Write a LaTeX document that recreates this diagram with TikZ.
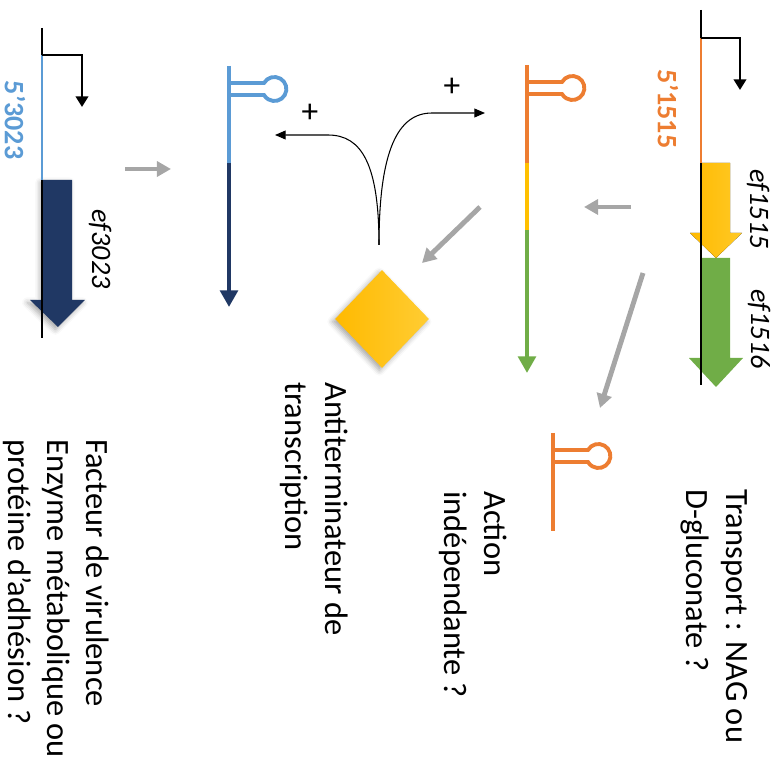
\documentclass[tikz,border=0pt]{standalone}
\usepackage{fontspec}
\setmainfont{Carlito}
\usepackage{xcolor}
\usepackage{tikz}
\usetikzlibrary{arrows.meta, shapes.geometric, shadows.blur}
\definecolor{ink}{RGB}{0,0,0}
\definecolor{orangec}{RGB}{237,125,49}
\definecolor{bluel}{RGB}{91,155,213}
\definecolor{blued}{RGB}{32,56,100}
\definecolor{yellowc}{RGB}{255,192,0}
\definecolor{greenc}{RGB}{112,173,71}
\definecolor{greyc}{RGB}{166,166,166}

\begin{document}
\begin{tikzpicture}[x=0.02cm, y=-0.02cm,
                    lab/.style={rotate=-90, anchor=north west, align=left, inner sep=0pt, font=\fontsize{18.5}{22.8}\selectfont},
                    gname/.style={rotate=-90, inner sep=0pt, font=\fontsize{16}{19}\selectfont\itshape},
                    utr/.style={rotate=-90, inner sep=0pt, font=\fontsize{16}{19}\selectfont\bfseries},
                    dna/.style={ink, line width=1.7pt},
                    prom/.style={ink, line width=1.4pt, -{Triangle[width=7pt,length=6pt]}},
                    rna/.style={line width=2.8pt},
                    rnatip/.style={-{Triangle[width=10pt,length=9.5pt]}},
                    move/.style={greyc, line width=2.8pt, -{Triangle[width=8.5pt,length=8pt]}},
                    act/.style={ink, line width=0.6pt, -{Triangle[width=5pt,length=6pt]}},
                    halo/.style={blur shadow={shadow xshift=-1.5pt, shadow yshift=-1.5pt, shadow opacity=35, shadow blur radius=3pt}},
                    hairpin/.pic={\draw[pic actions, line width=2.2pt] (0,-6) -- (35,-6) arc[start angle=-150, end angle=150, radius=12] -- (0,6);}]
  \useasboundingbox (0,0) rectangle (782,763);
  % operon ef1515-ef1516
  \fill[left color=yellowc!90!orange, right color=yellowc!85!white] (701,163) -- (730,163) -- (730,233) -- (742,233) -- (716,258) -- (690,233) -- (701,233) -- cycle;
  \fill[greenc] (701,258) -- (730,258) -- (730,358) -- (743,358) -- (716,387) -- (689,358) -- (701,358) -- cycle;
  \draw[dna] (701,10) -- (701,385);
  \draw[dna, orangec] (701,38) -- (701,163);
  \draw[prom] (701,38) -- (740,38) -- (740,90);
  \node[utr, text=orangec] (u1515) at (668,109) {5’1515};
  \node[gname] (g1515) at (758,209) {ef1515};
  \node[gname] (g1516) at (759,329) {ef1516};
  % gene ef3023
  \fill[blued, halo] (43,180) -- (72,180) -- (72,300) -- (85,300) -- (58,327) -- (30,300) -- (43,300) -- cycle;
  \draw[dna] (42,28) -- (42,338);
  \draw[dna, bluel] (42,55) -- (42,180);
  \draw[prom] (42,55) -- (82,55) -- (82,107);
  \node[utr, text=bluel] (u3023) at (15,120) {5’3023};
  \node[gname] (g3023) at (100,249) {ef3023};
  % transcripts
  \draw[rna, orangec] (527,65) -- (527,163);
  \draw[rna, yellowc] (527,163) -- (527,230);
  \draw[rna, rnatip, greenc] (527,230) -- (527,373);
  \pic[draw=orangec] at (527,88) {hairpin};
  \draw[rna, bluel] (229,66) -- (229,163);
  \draw[rna, rnatip, blued] (229,163) -- (229,307);
  \pic[draw=bluel] at (229,89) {hairpin};
  \draw[rna, orangec] (553,433) -- (553,531);
  \pic[draw=orangec] at (553,456) {hairpin};
  % antiterminator
  \node[diamond, minimum width=53.5pt, minimum height=55.8pt, inner sep=0pt, left color=yellowc!90!orange, right color=yellowc!80!white, halo] (anti) at (382,319) {};
  \coordinate (fork) at (379,245);
  \coordinate (tipL) at (275,135);
  \coordinate (tipR) at (485,113);
  \draw[act] (fork) .. controls (379,165) and (362,135) .. (328,135) -- (tipL);
  \draw[act] (fork) .. controls (379,150) and (398,113) .. (432,113) -- (tipR);
  \node[font=\fontsize{19}{22}\selectfont] (plusL) at (310,113) {+};
  \node[font=\fontsize{19}{22}\selectfont] (plusR) at (452,87) {+};
  % steps
  \coordinate (m1a) at (125,169); \coordinate (m1b) at (171,169);
  \coordinate (m2a) at (631,207); \coordinate (m2b) at (584,207);
  \coordinate (m3a) at (480,207); \coordinate (m3b) at (422,263);
  \coordinate (m4a) at (643,273); \coordinate (m4b) at (600,408);
  \draw[move] (m1a) -- (m1b);
  \draw[move] (m2a) -- (m2b);
  \draw[move] (m3a) -- (m3b);
  \draw[move] (m4a) -- (m4b);
  % roles
  \node[lab] (trans) at (748,489) {Transport : NAG ou\\D-gluconate ?};
  \node[lab] (indep) at (507,491) {Action\\indépendante ?};
  \node[lab] (antit) at (348,382) {Antiterminateur de\\transcription};
  \node[lab, font=\fontsize{18.5}{22}\selectfont] (facteur) at (109,439) {Facteur de virulence\\Enzyme métabolique ou\\protéine d’adhésion ?};
\end{tikzpicture}
\end{document}
